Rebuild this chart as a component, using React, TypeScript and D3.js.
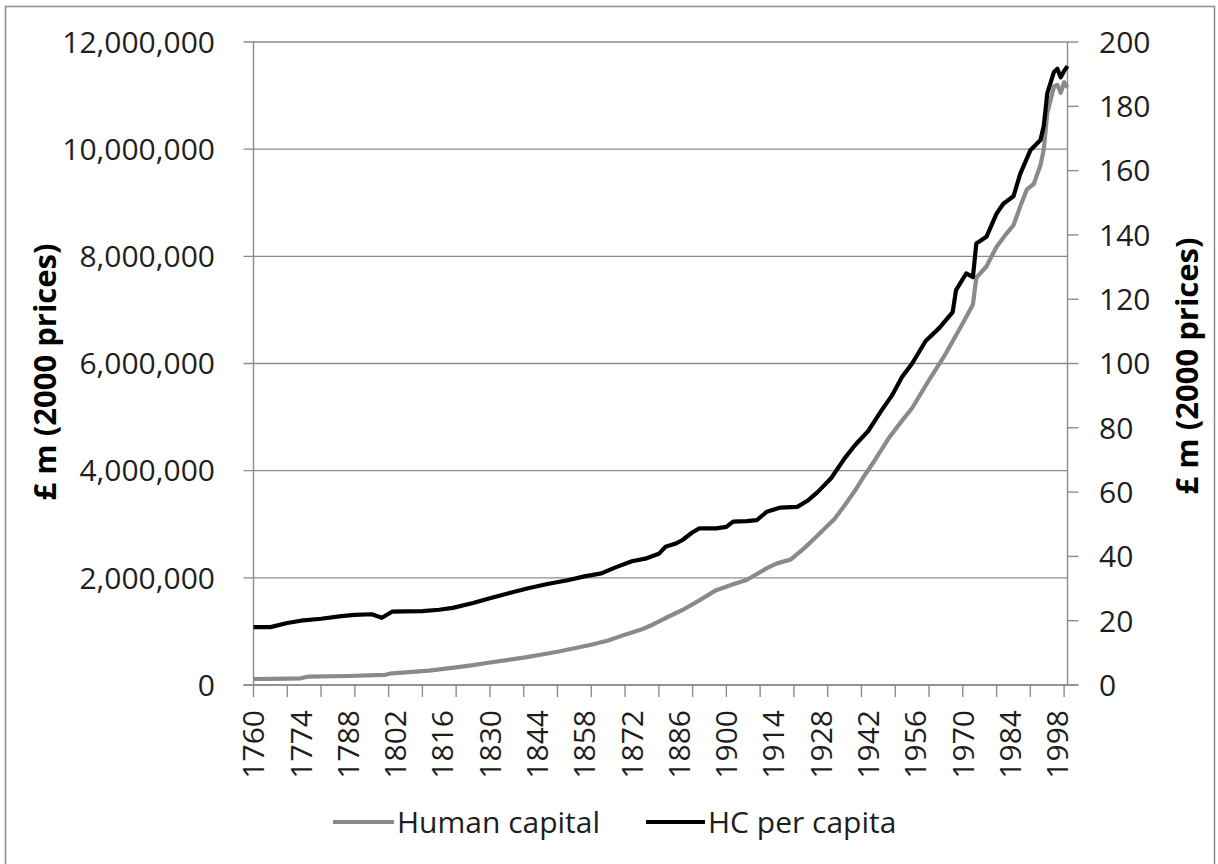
import React from "react";
import * as d3 from "d3";

// Human capital, £m (2000 prices) — left axis
const hcYears = [1760, 1765, 1770, 1774, 1776, 1788, 1799, 1801, 1806, 1812, 1820, 1825, 1830, 1835, 1840, 1845, 1850, 1855, 1860, 1865, 1870, 1875, 1878, 1882, 1887, 1892, 1897, 1902, 1906, 1912, 1915, 1919, 1923, 1926, 1932, 1935, 1938, 1941, 1944, 1948, 1951, 1955, 1960, 1965, 1970, 1973, 1974, 1977, 1980, 1983, 1985, 1987, 1989, 1991, 1993, 1994, 1995, 1997, 1998, 1999, 2000, 2001];
const hcValues = [112000, 115000, 120000, 125000, 155000, 168000, 190000, 218000, 240000, 267000, 330000, 370000, 420000, 465000, 510000, 565000, 620000, 685000, 750000, 830000, 940000, 1040000, 1120000, 1250000, 1400000, 1580000, 1770000, 1880000, 1960000, 2180000, 2270000, 2340000, 2550000, 2730000, 3100000, 3350000, 3620000, 3920000, 4200000, 4600000, 4850000, 5170000, 5690000, 6190000, 6750000, 7100000, 7600000, 7810000, 8180000, 8430000, 8580000, 8930000, 9250000, 9350000, 9700000, 10000000, 10670000, 11170000, 11200000, 11050000, 11250000, 11150000];

// HC per capita, £ (2000 prices) — right axis
const pcYears = [1760, 1765, 1770, 1774, 1780, 1786, 1790, 1795, 1798, 1801, 1805, 1810, 1815, 1819, 1825, 1830, 1835, 1841, 1847, 1853, 1858, 1863, 1867, 1872, 1876, 1880, 1882, 1885, 1887, 1890, 1892, 1897, 1900, 1902, 1906, 1909, 1912, 1916, 1921, 1924, 1927, 1931, 1935, 1938, 1942, 1946, 1949, 1952, 1955, 1959, 1963, 1967, 1968, 1971, 1973, 1974, 1977, 1980, 1982, 1985, 1987, 1990, 1993, 1994, 1995, 1997, 1998, 1999, 2000, 2001];
const pcValues = [18, 18, 19.3, 20, 20.6, 21.4, 21.8, 22, 20.9, 22.8, 22.9, 23, 23.4, 24, 25.5, 27, 28.4, 30, 31.4, 32.6, 33.8, 34.7, 36.5, 38.5, 39.3, 40.8, 43, 44, 45.1, 47.5, 48.7, 48.7, 49.2, 50.8, 51, 51.3, 53.9, 55.2, 55.4, 57.3, 60, 64.3, 70.5, 74.5, 79, 85.5, 90, 95.8, 100, 107, 111, 116, 122.8, 128, 126.9, 137.3, 139.4, 146.6, 149.7, 152, 159, 166.3, 169.5, 174, 184, 190.7, 191.7, 189, 191, 192.5];

const leftTicks = [0, 2000000, 4000000, 6000000, 8000000, 10000000, 12000000];
const rightTicks = [0, 20, 40, 60, 80, 100, 120, 140, 160, 180, 200];
const labelYears = d3.range(1760, 2001, 14);
const tickYears = d3.range(1760, 2001, 10);

const seriesNames = ["Human capital", "HC per capita"];
const seriesColors = ["#8a8a8a", "#000000"];
const axisTitle = "£ m (2000 prices)";

const W = 1218;
const H = 864;
const FONT = "'Open Sans', 'Liberation Sans', sans-serif";

export default function App() {
  const x = d3.scaleLinear().domain([1760, 2001]).range([253.5, 1067.5]);
  const yL = d3.scaleLinear().domain([0, 12000000]).range([685, 42]);
  const yR = d3.scaleLinear().domain([0, 200]).range([685, 42]);
  const fmt = d3.format(",");
  const x0 = x.range()[0];
  const x1 = x.range()[1];
  const yb = yL(0);

  const hcLine = d3
    .line<number>()
    .x((_, i) => x(hcYears[i]))
    .y((d) => yL(d))
    .curve(d3.curveLinear)(hcValues) as string;
  const pcLine = d3
    .line<number>()
    .x((_, i) => x(pcYears[i]))
    .y((d) => yR(d))
    .curve(d3.curveLinear)(pcValues) as string;

  const axisColor = "#8c8c8c";
  const textColor = "#1e1e1e";

  return (
    <svg
      width={W}
      height={H}
      style={{ position: "absolute", left: 0, top: 0, background: "#fff" }}
      fontFamily={FONT}
    >
      <rect x={0} y={0} width={W} height={H} fill="#fff" />
      <rect x={5.5} y={6.5} width={1209} height={900} fill="none" stroke="#8c8c8c" strokeWidth={1.5} />

      {/* gridlines */}
      {leftTicks.map((t) => (
        <line key={"g" + t} x1={x0 - 10} x2={x1} y1={yL(t)} y2={yL(t)} stroke={axisColor} strokeWidth={1.4} />
      ))}
      {/* left axis */}
      <line x1={x0} x2={x0} y1={yL(12000000)} y2={yb} stroke={axisColor} strokeWidth={1.4} />
      {leftTicks.map((t) => (
        <text key={"lt" + t} x={215} y={yL(t)} dy="0.36em" textAnchor="end" fontSize={30} fill={textColor}>
          {fmt(t)}
        </text>
      ))}
      {/* right axis */}
      <line x1={x1} x2={x1} y1={yR(200)} y2={yb} stroke={axisColor} strokeWidth={1.4} />
      {rightTicks.map((t) => (
        <g key={"rt" + t}>
          <line x1={x1} x2={x1 + 11} y1={yR(t)} y2={yR(t)} stroke={axisColor} strokeWidth={1.4} />
          <text x={1099} y={yR(t)} dy="0.36em" textAnchor="start" fontSize={30} fill={textColor}>
            {t}
          </text>
        </g>
      ))}
      {/* x axis */}
      <line x1={x0 - 10} x2={x1 + 11} y1={yb} y2={yb} stroke={axisColor} strokeWidth={1.4} />
      {tickYears.map((yr) => (
        <line key={"xt" + yr} x1={x(yr)} x2={x(yr)} y1={yb} y2={yb + 12} stroke={axisColor} strokeWidth={1.4} />
      ))}
      {labelYears.map((yr) => (
        <text
          key={"xl" + yr}
          transform={`translate(${x(yr)},710) rotate(-90)`}
          dy="0.36em"
          textAnchor="end"
          fontSize={30}
          fill={textColor}
        >
          {yr}
        </text>
      ))}

      {/* series */}
      <path d={hcLine} fill="none" stroke={seriesColors[0]} strokeWidth={4.2} strokeLinejoin="round" />
      <path d={pcLine} fill="none" stroke={seriesColors[1]} strokeWidth={4.2} strokeLinejoin="round" />

      {/* axis titles */}
      <text
        transform="translate(45,372) rotate(-90)"
        dy="0.36em"
        textAnchor="middle"
        fontSize={31}
        fontWeight="bold"
        fill="#000"
      >
        {axisTitle}
      </text>
      <text
        transform="translate(1187,366) rotate(-90)"
        dy="0.36em"
        textAnchor="middle"
        fontSize={31}
        fontWeight="bold"
        fill="#000"
      >
        {axisTitle}
      </text>

      {/* legend */}
      <line x1={333} x2={394} y1={822} y2={822} stroke={seriesColors[0]} strokeWidth={4.2} />
      <text x={397} y={822} dy="0.36em" fontSize={30} fill={textColor}>
        {seriesNames[0]}
      </text>
      <line x1={646} x2={705} y1={822} y2={822} stroke={seriesColors[1]} strokeWidth={4.2} />
      <text x={708} y={822} dy="0.36em" fontSize={30} fill={textColor}>
        {seriesNames[1]}
      </text>
    </svg>
  );
}
